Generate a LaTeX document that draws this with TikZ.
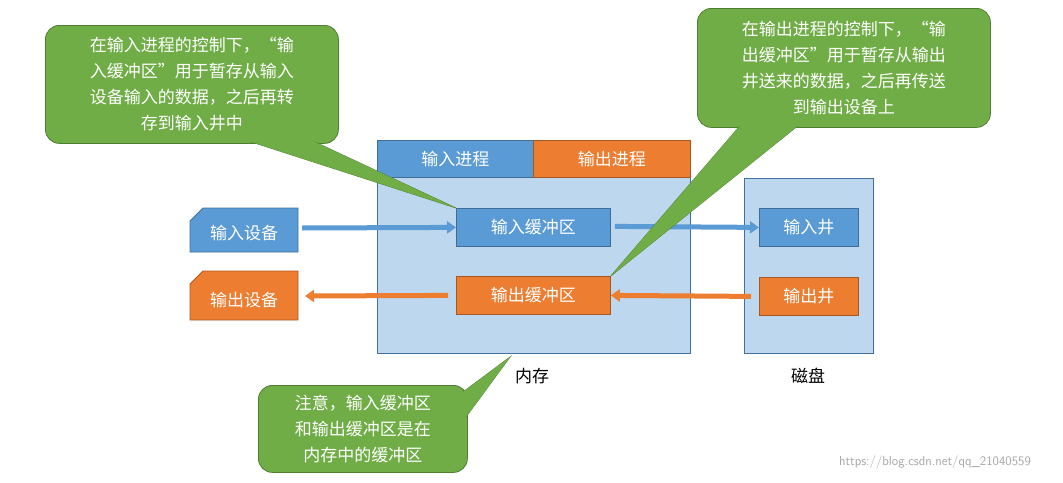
\documentclass[tikz,border=0pt]{standalone}
\usepackage{fontspec}
\newfontfamily\cjk{Noto Sans CJK SC}
\usetikzlibrary{arrows.meta,shapes.misc}
\definecolor{bl}{HTML}{5B9BD5}
\definecolor{bd}{HTML}{41719C}
\definecolor{og}{HTML}{ED7D31}
\definecolor{od}{HTML}{AE5A21}
\definecolor{lb}{HTML}{BDD7EE}
\definecolor{gr}{HTML}{70AD47}
\definecolor{gd}{HTML}{507E32}
\tikzset{
 box/.style={draw=#1!70!black,line width=0.8pt,fill=#1,text=white,font=\cjk\fontsize{17}{20}\selectfont,inner sep=0pt,anchor=north west},
 arr/.style={line width=5pt,draw=#1,-{Triangle[length=9pt,width=12pt]}},
 call/.style={draw=gd,line width=0.8pt,fill=gr,rounded corners=14pt,text=white,align=center,font=\cjk\fontsize{17}{26}\selectfont,inner sep=0pt,anchor=north west},
 lbl/.style={font=\cjk\fontsize{17}{20}\selectfont}
}
\begin{document}
\begin{tikzpicture}[x=1pt,y=-1pt]
\useasboundingbox (0,0) rectangle (1063,482);
\node[draw=bd,line width=0.8pt,fill=lb,minimum width=313pt,minimum height=213pt,anchor=north west,inner sep=0pt] (mem) at (377,140) {};
\node[box=bl,minimum width=156pt,minimum height=37pt] (ip) at (377,140) {输入进程};
\node[box=og,minimum width=157pt,minimum height=37pt] (op) at (533,140) {输出进程};
\node[draw=bd,line width=0.8pt,fill=lb,minimum width=129pt,minimum height=175pt,anchor=north west,inner sep=0pt] (disk) at (744,178) {};
\node[box=bl,minimum width=154pt,minimum height=38pt] (ib) at (456,208) {输入缓冲区};
\node[box=og,minimum width=154pt,minimum height=38pt] (ob) at (456,276) {输出缓冲区};
\node[box=bl,minimum width=99pt,minimum height=38pt] (iw) at (759,208) {输入井};
\node[box=og,minimum width=99pt,minimum height=38pt] (ow) at (759,277) {输出井};
\fill[bl,draw=bd,line width=0.8pt] (190,221)--(203,208)--(298,208)--(298,252)--(190,252)--cycle;
\node[lbl,text=white] (id) at (244,233) {输入设备};
\fill[og,draw=od,line width=0.8pt] (190,284)--(203,271)--(298,271)--(298,320)--(190,320)--cycle;
\node[lbl,text=white] (od) at (244,300) {输出设备};
\draw[arr=bl] (302,228) -- (ib.west);
\draw[arr=bl] (ib.east) ++(4,-1) -- (iw.west);
\draw[arr=og] (ow.west) ++(-8,0) -- (ob.east);
\draw[arr=og] (ob.west) ++(-8,0) -- (305,296);
\node[lbl] (nc) at (532,376) {内存};
\node[lbl] (cp) at (808,376) {磁盘};
\node[call,minimum width=293pt,minimum height=118pt] (c1) at (45,25) {在输入进程的控制下，“输\\入缓冲区”用于暂存从输入\\设备输入的数据，之后再转\\存到输入井中};
\node[call,minimum width=293pt,minimum height=119pt] (c2) at (697,8) {在输出进程的控制下，“输\\出缓冲区”用于暂存从输出\\井送来的数据，之后再传送\\到输出设备上};
\node[call,minimum width=209pt,minimum height=87pt] (c3) at (258,385) {注意，输入缓冲区\\和输出缓冲区是在\\内存中的缓冲区};
\coordinate (t1) at (ib.north west);
\coordinate (t2) at (ob.north east);
\coordinate (t3) at (510,357);
\draw[draw=gd,line width=0.8pt] (230,135)--(t1)--(300,135);
\draw[draw=gd,line width=0.8pt] (745,120)--(t2)--(805,120);
\draw[draw=gd,line width=0.8pt] (455,398)--(t3)--(460,425);
\fill[gr] (230,135)--(t1)--(300,135)--cycle;
\fill[gr] (745,120)--(t2)--(805,120)--cycle;
\fill[gr] (455,398)--(t3)--(460,425)--cycle;
\node[call] at (c1.north west) [minimum width=290pt,minimum height=115pt,xshift=1.5pt,yshift=-1.5pt,draw=none] {在输入进程的控制下，“输\\入缓冲区”用于暂存从输入\\设备输入的数据，之后再转\\存到输入井中};
\node[call] at (c2.north west) [minimum width=290pt,minimum height=116pt,xshift=1.5pt,yshift=-1.5pt,draw=none] {在输出进程的控制下，“输\\出缓冲区”用于暂存从输出\\井送来的数据，之后再传送\\到输出设备上};
\node[call] at (c3.north west) [minimum width=206pt,minimum height=84pt,xshift=1.5pt,yshift=-1.5pt,draw=none] {注意，输入缓冲区\\和输出缓冲区是在\\内存中的缓冲区};
\node[text=black!35,font=\fontsize{13}{15}\selectfont\sffamily] (wm) at (935,462) {https://blog.csdn.net/qq\_21040559};
\end{tikzpicture}
\end{document}
